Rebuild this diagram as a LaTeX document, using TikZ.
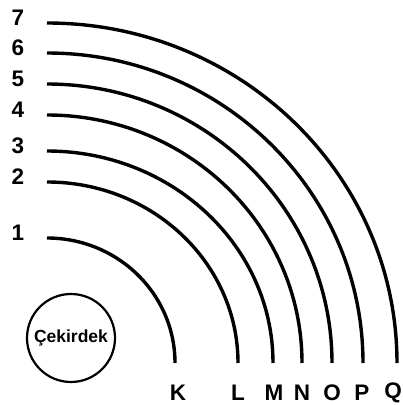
\documentclass[tikz,border=0pt]{standalone}
\usepackage{fontspec}
\setmainfont{Liberation Sans}
\usepackage{tikz}
\usetikzlibrary{positioning, calc}
\tikzset{
  shell/.style   = {line width=3.4pt},
  core/.style    = {draw, circle, line width=2.2pt, minimum size=88pt,
                    inner sep=0pt, font=\fontsize{17.5}{17.5}\selectfont\bfseries},
  lvl/.style     = {font=\fontsize{22.5}{22.5}\selectfont\bfseries, inner sep=0pt},
}

\begin{document}
\begin{tikzpicture}[x=1pt, y=1pt]
  \useasboundingbox (0,0) rectangle (403,405);

  % centre of the shells
  \coordinate (O) at (47,42);

  % nucleus
  \node[core] (nuc) at (71,67) {Çekirdek};

  % shells: x radius / y radius / number / letter / letter x
  \foreach \rx/\ry/\n/\s/\lx in {128/125/1/K/131, 191/181/2/L/191, 226/212/3/M/227,
                                 255/248/4/N/255, 285/279/5/O/285, 316/310/6/P/315,
                                 350/340/7/Q/346} {
    \draw[shell] ($(O) + (0,\ry)$) arc[start angle=90, end angle=0,
                                        x radius=\rx, y radius=\ry];
    \node[lvl] (num\n) at ($(O) + (-29,\ry+5)$) {\n};
    \node[lvl] (shl\s) at ($(O) + (\lx,-30)$)   {\s};
  }

\end{tikzpicture}
\end{document}
